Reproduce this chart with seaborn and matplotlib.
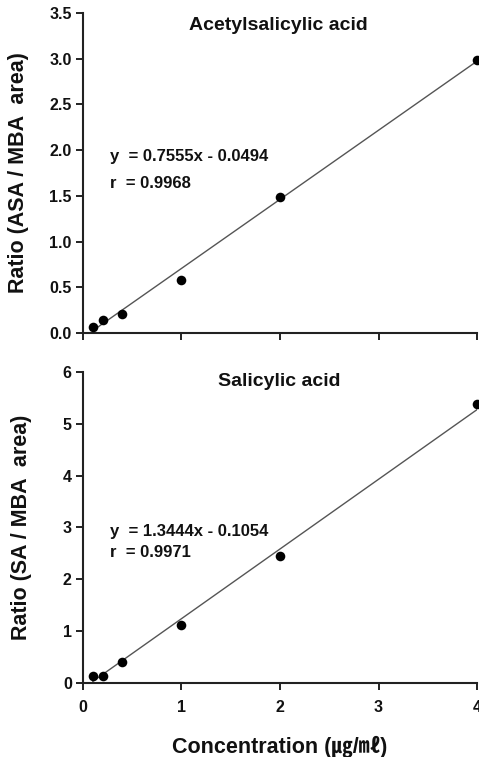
import numpy as np
import pandas as pd
import matplotlib
matplotlib.use("Agg")
import matplotlib.pyplot as plt
import seaborn as sns

# ---- data ----
conc = [0.1, 0.2, 0.4, 1.0, 2.0, 4.0]
asa_ratio = [0.07, 0.14, 0.21, 0.58, 1.49, 2.99]
sa_ratio = [0.13, 0.14, 0.40, 1.11, 2.45, 5.38]
asa_slope, asa_intercept, asa_r = 0.7555, -0.0494, 0.9968
sa_slope, sa_intercept, sa_r = 1.3444, -0.1054, 0.9971
titles = ["Acetylsalicylic acid", "Salicylic acid"]
ylabels = ["Ratio (ASA / MBA  area)", "Ratio (SA / MBA  area)"]
xlabel = "Concentration (\u338d/\u3396)"
xticks = [0, 1, 2, 3, 4]
asa_yticks = [0.0, 0.5, 1.0, 1.5, 2.0, 2.5, 3.0, 3.5]
sa_yticks = [0, 1, 2, 3, 4, 5, 6]

sns.set_style("ticks")
plt.rcParams['font.family'] = ['Liberation Sans', 'Noto Sans CJK KR', 'DejaVu Sans']
plt.rcParams['text.color'] = '#111111'
plt.rcParams['axes.labelcolor'] = '#111111'
plt.rcParams['xtick.color'] = '#111111'
plt.rcParams['ytick.color'] = '#111111'

fig = plt.figure(figsize=(4.79, 7.57), dpi=100)
ax1 = fig.add_axes([0.173, 0.560, 0.823, 0.423])
ax2 = fig.add_axes([0.173, 0.0978, 0.823, 0.411])

panels = [
    (ax1, asa_ratio, asa_slope, asa_intercept, asa_r, asa_yticks, "%.1f", (0.553, 0.466), -0.137),
    (ax2, sa_ratio, sa_slope, sa_intercept, sa_r, sa_yticks, "%d", (0.486, 0.418), -0.128),
]

for i, (ax, yv, m, b, r, yt, fmt, (ye, yr), lx) in enumerate(panels):
    df = pd.DataFrame({"x": conc, "y": yv})
    xline = np.array([conc[0], conc[-1]])
    dl = pd.DataFrame({"x": xline, "y": m * xline + b})
    sns.lineplot(data=dl, x="x", y="y", ax=ax, color="#555555", linewidth=1.0)
    sns.scatterplot(data=df, x="x", y="y", ax=ax, color="black", s=48,
                    edgecolor="black", linewidth=0, clip_on=False, zorder=5)
    ax.set_xlim(0, 4)
    ax.set_ylim(yt[0], yt[-1])
    ax.set_xticks(xticks)
    ax.set_yticks(yt)
    ax.set_yticklabels([fmt % v for v in yt], fontsize=11.5, fontweight="bold")
    ax.set_ylabel(ylabels[i], fontsize=15.5, fontweight="bold")
    ax.yaxis.set_label_coords(lx, 0.5)
    for sp in ["top", "right"]:
        ax.spines[sp].set_visible(False)
    for sp in ["left", "bottom"]:
        ax.spines[sp].set_linewidth(1.5)
        ax.spines[sp].set_color("#222222")
    ax.tick_params(direction="out", length=5, width=1.3, pad=3)
    ax.text(0.497, 0.96 if i == 0 else 0.97, titles[i], transform=ax.transAxes,
            ha="center", va="center", fontsize=14, fontweight="bold")
    sign = "-" if b < 0 else "+"
    ax.text(0.069, ye, f"y  = {m:.4f}x {sign} {abs(b):.4f}", transform=ax.transAxes,
            ha="left", va="center", fontsize=12, fontweight="bold")
    ax.text(0.069, yr, f"r  = {r:.4f}", transform=ax.transAxes,
            ha="left", va="center", fontsize=12, fontweight="bold")

ax1.set_xlabel("")
ax1.set_xticklabels([])
ax2.set_xticklabels([str(v) for v in xticks], fontsize=11.5, fontweight="bold")
ax2.tick_params(axis="x", pad=7)
ax2.set_xlabel(xlabel, fontsize=15.5, fontweight="bold", labelpad=15)

fig.savefig("out.png", dpi=100)
